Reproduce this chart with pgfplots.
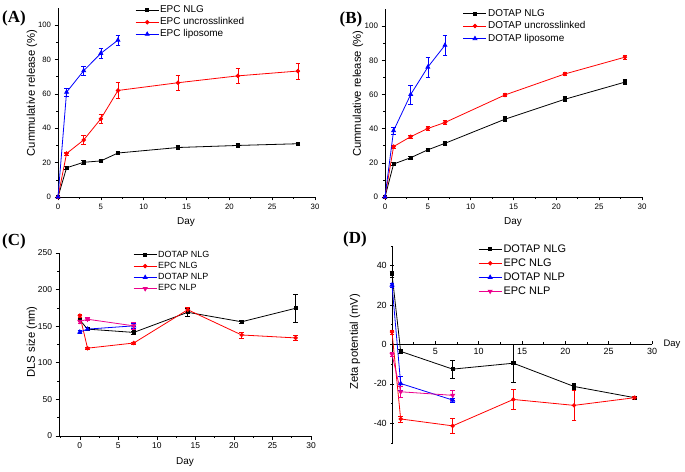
\documentclass[border=0pt]{standalone}
\usepackage{pgfplots}
\pgfplotsset{compat=1.18}
\usepackage{fontspec}
\setmainfont{Liberation Sans}
\newfontfamily\serifbf{Liberation Serif}
\newcommand{\fs}[1]{\fontsize{#1}{#1}\selectfont}

\pgfplotsset{
  basestyle/.style={
    scale only axis, axis lines=left, axis line style={-, line width=0.9bp},
    tick align=outside, major tick length=3.5bp, minor tick length=2bp,
    every tick/.style={black, line width=0.6bp},
    minor tick num=1,
    /pgf/number format/assume math mode=true,
    clip=false,
    legend cell align=left,
    legend style={draw=none, fill=none, anchor=north west, row sep=0pt, inner sep=0pt},
    legend image code/.code={\draw[mark repeat=2,mark phase=2,##1] plot coordinates {(0bp,0bp) (11.5bp,0bp) (23bp,0bp)};},
    error bars/error bar style={line width=0.6bp},
    error bars/error mark options={rotate=90, mark size=2.3bp, line width=0.6bp},
  },
  sblk/.style={black, line width=0.8bp, mark=square*, mark size=1.6bp, mark options={solid}},
  sred/.style={red, line width=0.8bp, mark=*, mark size=1.8bp, mark options={solid}},
  sblu/.style={blue, line width=0.8bp, mark=triangle*, mark size=2.2bp, mark options={solid}},
  smag/.style={magenta, line width=0.8bp, mark=triangle*, mark size=2.2bp, mark options={solid, rotate=180}},
  eb/.style={error bars/.cd, y dir=both, y explicit},
}

\begin{document}
\begin{tikzpicture}
\useasboundingbox (0,0) rectangle (685bp,472bp);

% ---------- (A)
\begin{axis}[basestyle, at={(58bp,275bp)}, anchor=south west,
  width=257bp, height=189bp,
  xmin=0, xmax=30, ymin=0, ymax=110,
  xtick={0,5,...,30}, ytick={0,20,...,100},
  ticklabel style={font=\fs{7.8}},
  xlabel={Day}, ylabel={Cummulative release (\%)},
  xlabel style={font=\fs{10}, at={(axis description cs:0.498,-0.132)}, anchor=center},
  ylabel style={font=\fs{11.3}, at={(axis description cs:-0.101,0.55)}, anchor=center},
  legend style={at={(axis description cs:0.30,1.021)}, font=\fs{10}, nodes={text height=7.5bp, text depth=2.5bp, inner sep=1bp}},
]
\addplot[sblk, eb] coordinates {(0,0)+-(0,0) (1,17)+-(0,1) (3,20.2)+-(0,1) (5,21)+-(0,1) (7,25.6)+-(0,1) (14,28.8)+-(0,1) (21,30)+-(0,1) (28,31)+-(0,1)};
\addlegendentry{EPC NLG}
\addplot[sred, eb] coordinates {(0,0)+-(0,0) (1,25.3)+-(0,1) (3,33.2)+-(0,2.5) (5,45.5)+-(0,2.5) (7,62)+-(0,4.5) (14,66.5)+-(0,4.5) (21,70.5)+-(0,4.5) (28,73.3)+-(0,4.7)};
\addlegendentry{EPC uncrosslinked}
\addplot[sblu, eb] coordinates {(0,0)+-(0,0) (1,61)+-(0,2.5) (3,73.5)+-(0,2.8) (5,83.6)+-(0,2.8) (7,91.3)+-(0,2.8)};
\addlegendentry{EPC liposome}
\end{axis}

% ---------- (B)
\begin{axis}[basestyle, at={(385bp,275bp)}, anchor=south west,
  width=257bp, height=188bp,
  xmin=0, xmax=30, ymin=0, ymax=110,
  xtick={0,5,...,30}, ytick={0,20,...,100},
  ticklabel style={font=\fs{8}},
  xlabel={Day}, ylabel={Cummulative release (\%)},
  xlabel style={font=\fs{10}, at={(axis description cs:0.498,-0.133)}, anchor=center},
  ylabel style={font=\fs{11.3}, at={(axis description cs:-0.105,0.55)}, anchor=center},
  legend style={at={(axis description cs:0.303,1.01)}, font=\fs{10}, nodes={text height=7.5bp, text depth=2.5bp, inner sep=1.25bp}},
]
\addplot[sblk, eb] coordinates {(0,0)+-(0,0) (1,19.3)+-(0,1) (3,23)+-(0,1) (5,27.6)+-(0,1) (7,31.4)+-(0,1) (14,45.5)+-(0,1.5) (21,57.2)+-(0,1.5) (28,67.2)+-(0,1.5)};
\addlegendentry{DOTAP NLG}
\addplot[sred, eb] coordinates {(0,0)+-(0,0) (1,29.5)+-(0,1) (3,35.3)+-(0,1) (5,40.1)+-(0,1) (7,43.6)+-(0,1) (14,59.7)+-(0,1) (21,72)+-(0,1) (28,81.8)+-(0,1.3)};
\addlegendentry{DOTAP uncrosslinked}
\addplot[sblu, eb] coordinates {(0,0)+-(0,0) (1,38.8)+-(0,2) (3,60)+-(0,5.5) (5,76)+-(0,6) (7,88.8)+-(0,6)};
\addlegendentry{DOTAP liposome}
\end{axis}

% ---------- (C)
\begin{axis}[basestyle, at={(59bp,36bp)}, anchor=south west,
  width=252bp, height=183bp,
  xmin=-2.7, xmax=30, ymin=0, ymax=250,
  xtick={0,5,...,30}, ytick={0,50,...,250},
  minor xtick={-2.5,2.5,...,27.5},
  ticklabel style={font=\fs{8.5}},
  xlabel={Day}, ylabel={DLS size (nm)},
  xlabel style={font=\fs{10}, at={(axis description cs:0.5,-0.142)}, anchor=center},
  ylabel style={font=\fs{11.3}, at={(axis description cs:-0.107,0.514)}, anchor=center},
  legend style={at={(axis description cs:0.294,1.022)}, font=\fs{9}, nodes={text height=6.75bp, text depth=2.25bp, inner sep=1.15bp}},
]
\addplot[sblk, eb] coordinates {(0,158.5)+-(0,2) (1,146)+-(0,2) (7,141.5)+-(0,2) (14,169)+-(0,5) (21,156)+-(0,1.5) (28,174.5)+-(0,19)};
\addlegendentry{DOTAP NLG}
\addplot[sred, eb] coordinates {(0,164.5)+-(0,2) (1,120)+-(0,1.5) (7,127)+-(0,1.5) (14,172.5)+-(0,3) (21,138)+-(0,4) (28,134)+-(0,3)};
\addlegendentry{EPC NLG}
\addplot[sblu, eb] coordinates {(0,142)+-(0,2) (1,146)+-(0,2) (7,150.5)+-(0,3)};
\addlegendentry{DOTAP NLP}
\addplot[smag, eb] coordinates {(0,156.5)+-(0,2) (1,159.5)+-(0,2) (7,150.5)+-(0,5)};
\addlegendentry{EPC NLP}
\end{axis}

% ---------- (D)
\begin{axis}[basestyle, at={(392bp,29bp)}, anchor=south west,
  width=260bp, height=197bp,
  axis x line=middle, axis y line=left,
  axis line style={-, line width=1bp},
  xmin=0, xmax=30, ymin=-50, ymax=50,
  xtick={0,5,...,30}, ytick={-40,-20,...,40},
  minor ytick={-50,-30,...,50},
  xtick align=inside,
  ticklabel style={font=\fs{9}},
  xlabel={Day}, ylabel={Zeta potential (mV)},
  xlabel style={font=\fs{9.5}, at={(axis description cs:1,0.5)}, anchor=west, xshift=8bp},
  ylabel style={font=\fs{11.3}, at={(axis description cs:-0.142,0.513)}, anchor=center},
  legend style={at={(axis description cs:0.331,1.02)}, font=\fs{11}, nodes={text height=8.25bp, text depth=2.75bp, inner sep=1.5bp}},
]
\addplot[sblk, eb] coordinates {(0,35.8)+-(0,1.5) (1,-3.5)+-(0,1) (7,-12.5)+-(0,4.5) (14,-9.5)+-(0,9.5) (21,-21.3)+-(0,1.5) (28,-27)+-(0,0.8)};
\addlegendentry{DOTAP NLG}
\addplot[sred, eb] coordinates {(0,6.3)+-(0,1) (1,-37.8)+-(0,1.5) (7,-41.3)+-(0,4) (14,-27.9)+-(0,5) (21,-30.9)+-(0,7.5) (28,-27)+-(0,0.8)};
\addlegendentry{EPC NLG}
\addplot[sblu, eb] coordinates {(0,30.2)+-(0,1) (1,-19.8)+-(0,3.5) (7,-28.2)+-(0,1)};
\addlegendentry{DOTAP NLP}
\addplot[smag, eb] coordinates {(0,-5)+-(0,1) (1,-24)+-(0,3) (7,-25.8)+-(0,2.5)};
\addlegendentry{EPC NLP}
\end{axis}

\node[font=\serifbf\bfseries\fs{17}] at (14bp,454bp) {(A)};
\node[font=\serifbf\bfseries\fs{17}] at (351bp,453bp) {(B)};
\node[font=\serifbf\bfseries\fs{17}] at (14bp,231bp) {(C)};
\node[font=\serifbf\bfseries\fs{17}] at (355bp,233bp) {(D)};
\end{tikzpicture}
\end{document}
